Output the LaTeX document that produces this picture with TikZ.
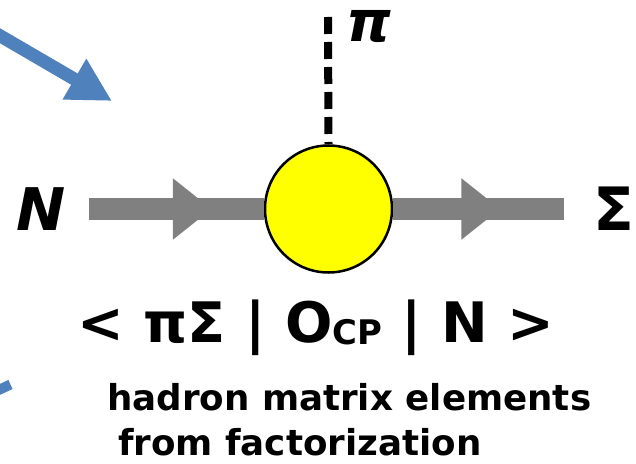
\documentclass[tikz,border=0pt]{standalone}
\usepackage{fontspec}
\setmainfont{DejaVu Sans}
\usepackage{xcolor}
\definecolor{flowblue}{HTML}{4F81BD}
\definecolor{propgray}{HTML}{808080}
\definecolor{vertexyellow}{HTML}{FFFF00}
\usetikzlibrary{arrows.meta, positioning, calc, decorations.markings}

\begin{document}
\begin{tikzpicture}[
        x=1bp, y=-1bp,
        particle_node/.style={
            inner sep=0pt,
            font=\fontsize{62}{62}\selectfont\bfseries
        },
        vertex_node/.style={
            circle,
            draw=black,
            line width=2.5bp,
            fill=vertexyellow,
            minimum size=127bp,
            inner sep=0pt
        },
        braket_node/.style={
            inner sep=0pt,
            font=\fontsize{56}{56}\selectfont\bfseries
        },
        caption_node/.style={
            inner sep=0pt,
            font=\fontsize{35.8}{36}\selectfont\bfseries
        },
        propagator/.style={
            draw=propgray,
            line width=22bp
        },
        mid_arrow/.style={
            postaction={decorate, decoration={markings,
                mark=at position #1 with {\arrow{Triangle[length=39bp, width=59bp]}}}}
        },
        meson_line/.style={
            draw=black,
            line width=8bp,
            dash pattern=on 17bp off 8bp
        },
        flow_arrow/.style={
            -{Triangle[length=43.5bp, width=44bp]},
            draw=flowblue,
            line width=13bp
        }
    ]
    \useasboundingbox (0,0) rectangle (636,464);

    % Vertex and external particles
    \node[vertex_node] (hub) at (328.5,209) {};
    \node[particle_node, font=\fontsize{59}{59}\selectfont\bfseries\itshape] (nucleon) at (41,209) {N};
    \node[particle_node, font=\fontsize{60}{60}\selectfont\bfseries] (sigma) at (613.5,209) {Σ};
    \node[particle_node, anchor=base, font=\fontsize{57}{57}\selectfont\bfseries\itshape] (pion) at (369,42) {π};
    \coordinate (piontop) at (328,17);

    % Propagators
    \draw[propagator, mid_arrow=-52bp, shorten <=23bp] (nucleon) -- (hub);
    \draw[propagator, mid_arrow=107bp, shorten >=29bp] (hub) -- (sigma);
    \draw[meson_line] (piontop) -- (hub.north);

    % Matrix element
    \node[braket_node, anchor=base] (braket) at (316,342)
        {< πΣ | O\raisebox{-2bp}{\fontsize{34}{34}\selectfont CP} | N >};
    \node[caption_node, anchor=base west] (captionone) at (107,410) {hadron matrix elements};
    \node[caption_node, anchor=base west] (captiontwo) at (118,455) {from factorization};

    % Incoming flow arrows
    \coordinate (flowstart) at (-9,30.5);
    \coordinate (flowtip) at (112,101);
    \draw[flow_arrow] (flowstart) -- (flowtip);
    \coordinate (stubstart) at (-21,399);
    \coordinate (stubend) at (10.5,384.5);
    \draw[draw=flowblue, line width=10bp] (stubstart) -- (stubend);

\end{tikzpicture}
\end{document}
